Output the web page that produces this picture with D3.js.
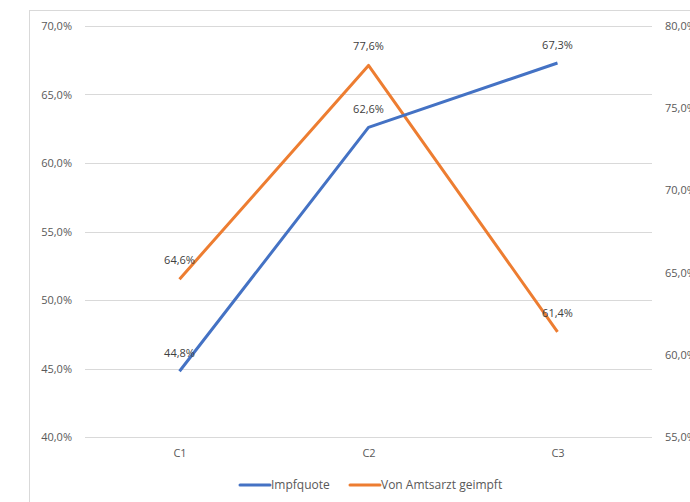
<!DOCTYPE html>
<html><head><meta charset="utf-8">
<script src="https://cdn.jsdelivr.net/npm/d3@7"></script>
<style>body{margin:0;background:#fff}svg{display:block}text{font-family:"Open Sans","Liberation Sans",sans-serif;}</style>
</head><body><svg width="690" height="502"></svg>
<script>
const categories = ["C1","C2","C3"];
const impfquote = [44.8, 62.6, 67.3];
const amtsarzt = [64.6, 77.6, 61.4];
const leftTicks = [40,45,50,55,60,65,70];
const rightTicks = [55,60,65,70,75,80];
const seriesNames = ["Impfquote","Von Amtsarzt geimpft"];
const colors = ["#4472C4","#ED7D31"];

const svg = d3.select("svg");
const fmt = v => d3.format(".1f")(v).replace(".", ",") + "%";
svg.append("rect").attr("x",29.5).attr("y",10.5).attr("width",700).attr("height",520)
  .attr("fill","#fff").attr("stroke","#d9d9d9");

const L=85,R=652,T=26,B=437;
const x = d3.scalePoint().domain(categories).range([L,R]).padding(0.5);
const yL = d3.scaleLinear().domain([40,70]).range([B,T]);
const yR = d3.scaleLinear().domain([55,80]).range([B,T]);

const grid = svg.append("g");
grid.selectAll("line").data(leftTicks).join("line")
  .attr("x1",L).attr("x2",R).attr("y1",d=>Math.round(yL(d))+0.5).attr("y2",d=>Math.round(yL(d))+0.5)
  .attr("stroke","#d9d9d9").attr("stroke-width",1);

const axL = svg.append("g").attr("transform",`translate(${L},0)`)
  .call(d3.axisLeft(yL).tickValues(leftTicks).tickFormat(fmt).tickSize(0).tickPadding(13));
const axR = svg.append("g").attr("transform",`translate(${R},0)`)
  .call(d3.axisRight(yR).tickValues(rightTicks).tickFormat(fmt).tickSize(0).tickPadding(13));
const axB = svg.append("g").attr("transform",`translate(0,${B})`)
  .call(d3.axisBottom(x).tickSize(0).tickPadding(12));
[axL,axR,axB].forEach(a=>{a.select(".domain").remove();
  a.selectAll("text").attr("fill","#595959").style("font-size","11px");});

const line1 = d3.line().x((d,i)=>x(categories[i])).y(d=>yL(d));
const line2 = d3.line().x((d,i)=>x(categories[i])).y(d=>yR(d));
svg.append("path").attr("d",line2(amtsarzt)).attr("fill","none").attr("stroke",colors[1]).attr("stroke-width",3).attr("stroke-linejoin","round");
svg.append("path").attr("d",line1(impfquote)).attr("fill","none").attr("stroke",colors[0]).attr("stroke-width",3).attr("stroke-linejoin","round");

const lab = svg.append("g").style("font-size","11px").attr("fill","#404040").attr("text-anchor","middle");
impfquote.forEach((v,i)=>lab.append("text").attr("x",x(categories[i])).attr("y",yL(v)-14).text(fmt(v)));
amtsarzt.forEach((v,i)=>lab.append("text").attr("x",x(categories[i])).attr("y",yR(v)-15).text(fmt(v)));

const leg = svg.append("g").style("font-size","12px");
const legX=[240,350];
seriesNames.forEach((n,i)=>{
  leg.append("line").attr("x1",legX[i]).attr("x2",legX[i]+30).attr("y1",485).attr("y2",485)
    .attr("stroke",colors[i]).attr("stroke-width",3).attr("stroke-linecap","round");
  leg.append("text").attr("x",legX[i]+31).attr("y",489).attr("fill","#595959").text(n);
});
</script></body></html>
